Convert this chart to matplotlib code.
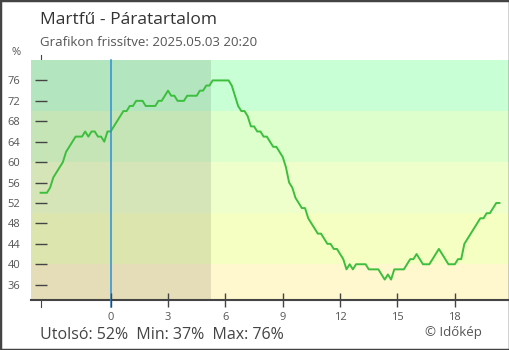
import matplotlib
matplotlib.use("Agg")
import matplotlib.pyplot as plt
import numpy as np
from matplotlib.patches import Rectangle

plt.rcParams["font.family"] = ["Open Sans", "DejaVu Sans"]

# humidity (%), 10-minute samples from 20:20 previous day to 20:20
start_h = -3.6667
step_h = 1 / 6
humidity = [
    54, 54, 54, 55, 57, 58, 59, 60, 62, 63, 64, 65, 65, 65, 66, 65, 66, 66, 65, 65,
    64, 66, 66, 67, 68, 69, 70, 70, 71, 71, 72, 72, 72, 71, 71, 71, 71, 72, 72, 73,
    74, 73, 73, 72, 72, 72, 73, 73, 73, 73, 74, 74, 75, 75, 76, 76, 76, 76, 76, 76,
    75, 73, 71, 70, 70, 69, 67, 67, 66, 66, 65, 65, 64, 63, 63, 62, 61, 59, 56, 55,
    53, 52, 51, 51, 49, 48, 47, 46, 46, 45, 44, 44, 43, 43, 42, 41, 39, 40, 39, 40,
    40, 40, 40, 39, 39, 39, 39, 38, 37, 38, 37, 39, 39, 39, 39, 40, 41, 41, 42, 41,
    40, 40, 40, 41, 42, 43, 42, 41, 40, 40, 40, 41, 41, 44, 45, 46, 47, 48, 49, 49,
    50, 50, 51, 52, 52,
]
hours = start_h + step_h * np.arange(len(humidity))

band_edges = [0, 40, 50, 60, 70, 100]
band_colors = ["#fff7cd", "#f5ffc2", "#eeffcc", "#dcffcc", "#c8ffd5"]
sunrise_h = 5.27
x_ticks = [0, 3, 6, 9, 12, 15, 18]
y_ticks = [36, 40, 44, 48, 52, 56, 60, 64, 68, 72, 76]

W, H = 510, 350
fig = plt.figure(figsize=(W / 100, H / 100), dpi=100, facecolor="white")
ax = fig.add_axes([31 / W, 1 - 300 / H, 478 / W, 240 / H])

xlim = (start_h - 0.5, hours[-1] + 0.5)
ax.set_xlim(*xlim)
ax.set_ylim(33, 80)

for lo, hi, c in zip(band_edges[:-1], band_edges[1:], band_colors):
    ax.axhspan(lo, hi, color=c, lw=0, zorder=1)
ax.axvspan(xlim[0], sunrise_h, color="black", alpha=0.1, lw=0, zorder=1.2)

ax.plot(hours, humidity, color="#3cbf3c", lw=1.4, zorder=4)
ax.axvline(0, ymin=-0.03, ymax=1, color="#2a90dc", lw=1.1, zorder=5, clip_on=False)

for s in ["top", "right"]:
    ax.spines[s].set_visible(False)
ax.spines["bottom"].set_color("#444444")
ax.spines["bottom"].set_linewidth(1.5)
ax.spines["left"].set_position(("data", start_h))
ax.spines["left"].set_bounds(31.6, 81)
ax.spines["left"].set_color("#444444")
ax.spines["left"].set_zorder(0.5)

ax.set_xticks(x_ticks)
ax.set_xticklabels([str(t) for t in x_ticks])
ax.set_yticks(y_ticks)
ax.tick_params(axis="x", direction="inout", length=10, width=1, color="#444444",
               labelsize=8, labelcolor="#555555", pad=4)
ax.tick_params(axis="y", direction="inout", length=9, width=1, color="#444444",
               labelsize=8, labelcolor="#555555", pad=10)
ax.yaxis.set_zorder(6)
ax.xaxis.set_zorder(6)

fig.text(40 / W, 1 - 24.5 / H, "Martfű - Páratartalom", fontsize=12.5,
         color="#333333", va="baseline", ha="left")
fig.text(40 / W, 1 - 45.5 / H, "Grafikon frissítve: 2025.05.03 20:20", fontsize=9.5,
         color="#555555", va="baseline", ha="left")
fig.text(16 / W, 1 - 55 / H, "%", fontsize=8, color="#555555", va="baseline", ha="center")
fig.text(40 / W, 1 - 339 / H,
         f"Utolsó: {humidity[-1]}%  Min: {min(humidity)}%  Max: {max(humidity)}%",
         fontsize=11.5, color="#444444", va="baseline", ha="left")
fig.text(482 / W, 1 - 336 / H, "© Időkép", fontsize=9.5, color="#555555",
         va="baseline", ha="right")

fig.patches.append(Rectangle((0, 0), 1, 1, transform=fig.transFigure, fill=False,
                             edgecolor="#444444", lw=2.5, zorder=10))

fig.savefig("out.png", dpi=100, facecolor="white")
